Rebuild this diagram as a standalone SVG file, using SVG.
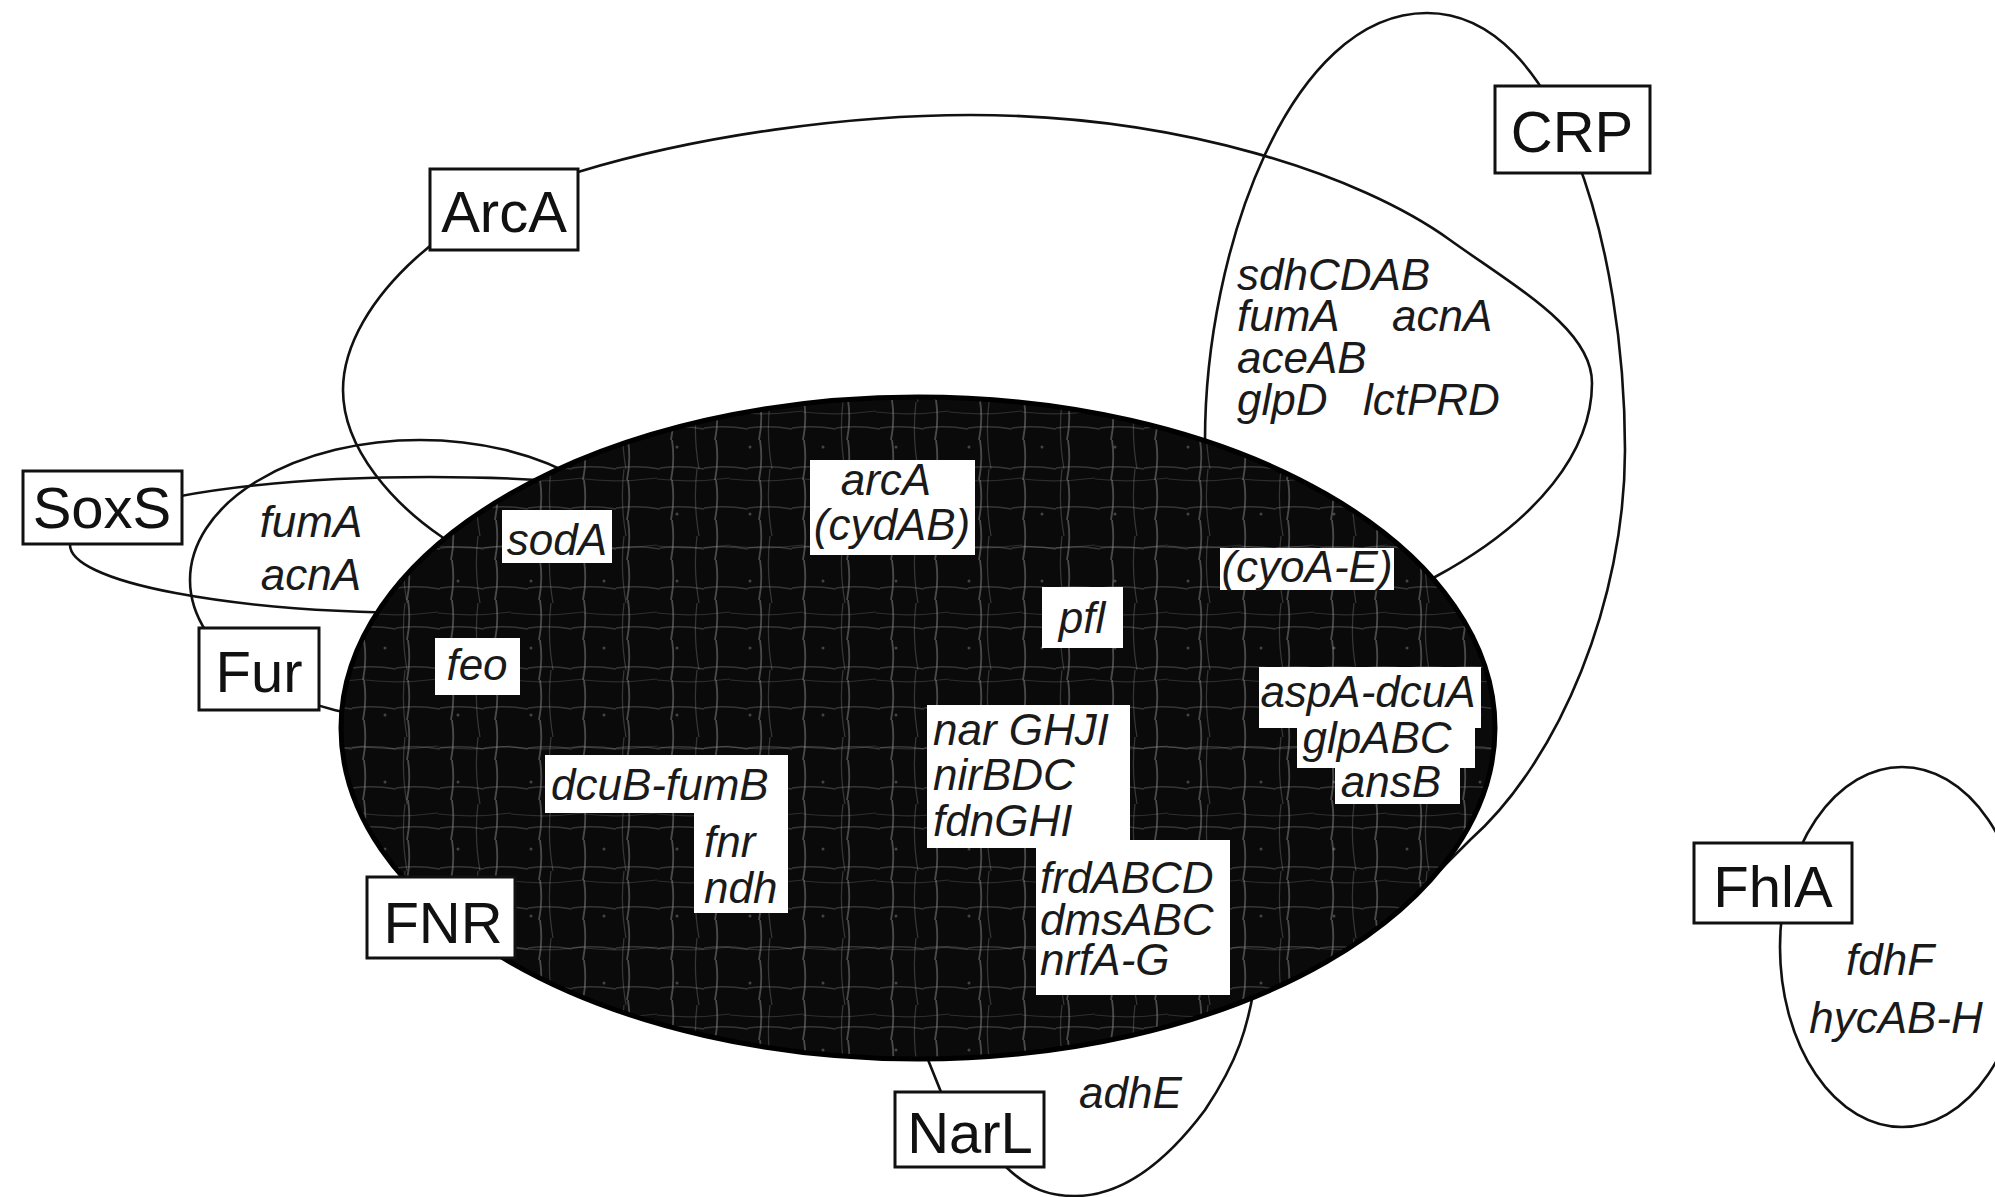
<svg xmlns="http://www.w3.org/2000/svg" width="1995" height="1197" viewBox="0 0 1995 1197">
<defs>
<style>
.set{fill:none;stroke:#111;stroke-width:2.6}
.reg rect{fill:#fff;stroke:#111;stroke-width:3}
.reg text{font-family:"Liberation Sans",Arial,Helvetica,sans-serif;font-size:58px;fill:#111;text-anchor:middle}
.gene rect{fill:#fff;stroke:none}
.gt{font-family:"Liberation Sans",Arial,Helvetica,sans-serif;font-style:italic;font-size:44px;fill:#1a1a1a}
.mid{text-anchor:middle}
</style>
<pattern id="mesh" width="44" height="40" patternUnits="userSpaceOnUse">
<rect width="44" height="40" fill="#0a0a0a"/>
<path d="M12 0 Q15 20 11 40" stroke="#9a9a9a" stroke-width="1.8" fill="none" opacity="0.45"/>
<path d="M0 28 Q22 25 44 29" stroke="#9a9a9a" stroke-width="1.4" fill="none" opacity="0.3"/>
</pattern>
<pattern id="mesh2" width="73" height="67" patternUnits="userSpaceOnUse">
<path d="M40 0 Q36 33 42 67" stroke="#bbb" stroke-width="1.2" fill="none" opacity="0.25"/>
<path d="M0 10 Q35 14 73 9" stroke="#bbb" stroke-width="1.2" fill="none" opacity="0.2"/>
<circle cx="20" cy="45" r="1.5" fill="#ccc" opacity="0.3"/>
</pattern>
</defs>
<rect width="1995" height="1197" fill="#fff"/>

<g id="connectors">
<path id="set-ArcA" class="set" d="M480,580 L442,537 C395,505 343,450 343,390 C343,300 460,200 578,172 C700,135 850,115 970,115 C1180,115 1360,175 1450,240 C1520,290 1592,330 1592,383 C1592,450 1540,520 1435,577 L1400,610"/>
<path id="set-CRP" class="set" d="M1205,480 L1205,440 C1205,250 1290,13 1427,13 C1560,13 1625,250 1625,450 C1625,600 1560,760 1470,840 L1440,870"/>
<ellipse id="set-SoxS" class="set" cx="430" cy="545" rx="360" ry="68"/>
<ellipse id="set-Fur" class="set" cx="420" cy="580" rx="230" ry="140"/>
<path id="set-NarL" class="set" d="M912,1020 L941,1092 L1006,1167 C1030,1190 1050,1196 1075,1196 C1130,1196 1175,1150 1205,1110 C1235,1065 1250,1030 1258,960"/>
<ellipse id="set-FhlA" class="set" cx="1902" cy="947" rx="122" ry="180"/>
</g>

<g id="set-FNR-region">
<ellipse cx="918" cy="728" rx="577" ry="331" fill="url(#mesh)"/>
<ellipse cx="918" cy="728" rx="577" ry="331" fill="url(#mesh2)" stroke="#000" stroke-width="5"/>
</g>

<g id="genes-SoxS-Fur" class="gt mid">
<text x="311" y="537">fumA</text>
<text x="311" y="590">acnA</text>
</g>
<g id="genes-CRP" class="gt">
<text x="1237" y="290">sdhCDAB</text>
<text x="1237" y="331">fumA</text>
<text x="1392" y="331">acnA</text>
<text x="1237" y="373">aceAB</text>
<text x="1237" y="415">glpD</text>
<text x="1363" y="415">lctPRD</text>
</g>
<g id="genes-NarL" class="gt"><text x="1079" y="1108">adhE</text></g>
<g id="genes-FhlA" class="gt mid">
<text x="1890" y="975">fdhF</text>
<text x="1896" y="1033">hycAB-H</text>
</g>

<g id="gene-sodA" class="gene"><rect x="502" y="510" width="110" height="53"/><text class="gt mid" x="557" y="555">sodA</text></g>
<g id="gene-feo" class="gene"><rect x="435" y="638" width="85" height="57"/><text class="gt mid" x="477" y="680">feo</text></g>
<g id="gene-arcA" class="gene"><rect x="810" y="460" width="165" height="95"/><text class="gt mid" x="886" y="495">arcA</text><text class="gt mid" x="892" y="540">(cydAB)</text></g>
<g id="gene-cyoA" class="gene"><rect x="1220" y="548" width="174" height="42"/><text class="gt mid" x="1307" y="582">(cyoA-E)</text></g>
<g id="gene-pfl" class="gene"><rect x="1042" y="587" width="81" height="61"/><text class="gt mid" x="1082" y="633">pfl</text></g>
<g id="gene-aspA" class="gene">
<rect x="1259" y="667" width="222" height="61"/><rect x="1297" y="727" width="178" height="41"/><rect x="1335" y="767" width="125" height="37"/>
<text class="gt mid" x="1368" y="707">aspA-dcuA</text><text class="gt mid" x="1377" y="753">glpABC</text><text class="gt mid" x="1391" y="797">ansB</text>
</g>
<g id="gene-narG" class="gene">
<rect x="927" y="705" width="203" height="143"/>
<text class="gt" x="933" y="745">nar GHJI</text><text class="gt" x="933" y="790">nirBDC</text><text class="gt" x="933" y="836">fdnGHI</text>
</g>
<g id="gene-frd" class="gene">
<rect x="1036" y="840" width="194" height="155"/>
<text class="gt" x="1040" y="893">frdABCD</text><text class="gt" x="1040" y="935">dmsABC</text><text class="gt" x="1040" y="975">nrfA-G</text>
</g>
<g id="gene-dcuB" class="gene">
<rect x="545" y="755" width="243" height="58"/><rect x="694" y="812" width="94" height="101"/>
<text class="gt" x="551" y="800">dcuB-fumB</text><text class="gt" x="704" y="857">fnr</text><text class="gt" x="704" y="903">ndh</text>
</g>

<g id="node-ArcA" class="reg"><rect x="430" y="169" width="148" height="81"/><text x="504" y="232">ArcA</text></g>
<g id="node-CRP" class="reg"><rect x="1495" y="86" width="155" height="87"/><text x="1572" y="152">CRP</text></g>
<g id="node-SoxS" class="reg"><rect x="23" y="471" width="159" height="73"/><text x="102" y="528">SoxS</text></g>
<g id="node-Fur" class="reg"><rect x="199" y="628" width="120" height="82"/><text x="259" y="692">Fur</text></g>
<g id="node-FNR" class="reg"><rect x="367" y="877" width="148" height="81"/><text x="443" y="943">FNR</text></g>
<g id="node-NarL" class="reg"><rect x="895" y="1092" width="149" height="75"/><text x="970" y="1153">NarL</text></g>
<g id="node-FhlA" class="reg"><rect x="1694" y="843" width="158" height="80"/><text x="1773" y="907">FhlA</text></g>
</svg>
